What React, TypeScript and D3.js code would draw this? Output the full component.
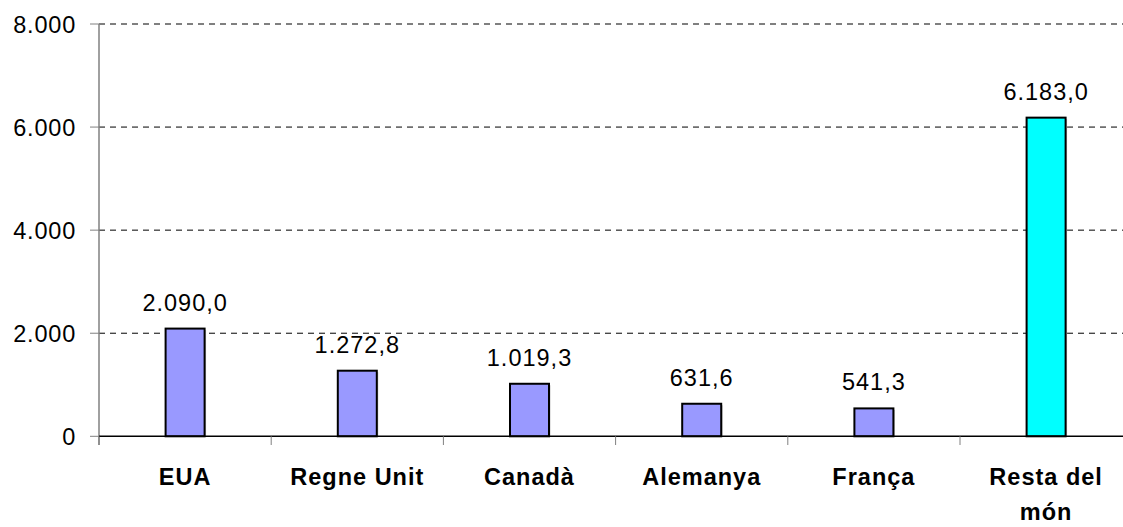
import React from "react";
import * as d3 from "d3";

const categories: string[][] = [["EUA"], ["Regne Unit"], ["Canadà"], ["Alemanya"], ["França"], ["Resta del", "món"]];
const values: number[] = [2090.0, 1272.8, 1019.3, 631.6, 541.3, 6183.0];
const valueLabels: string[] = ["2.090,0", "1.272,8", "1.019,3", "631,6", "541,3", "6.183,0"];
const barColors: string[] = ["#9999FF", "#9999FF", "#9999FF", "#9999FF", "#9999FF", "#00FFFF"];
const yTicks: number[] = [0, 2000, 4000, 6000, 8000];
const yTickLabels: string[] = ["0", "2.000", "4.000", "6.000", "8.000"];

const W = 1123;
const H = 527;
const FONT = "'Liberation Sans', Arial, Helvetica, sans-serif";

export default function App() {
  const keys = categories.map((c) => c.join(" "));
  const x = d3.scaleBand<string>().domain(keys).range([99, 99 + 6 * 172.2]).padding(0);
  const y = d3.scaleLinear().domain([0, 8000]).range([436.3, 24]);
  const bw = x.bandwidth();
  const barW = 39;
  const boundaries = keys.map((k) => x(k) as number).concat([(x(keys[keys.length - 1]) as number) + bw]);

  return (
    <svg
      width={W}
      height={H}
      style={{ position: "fixed", left: 0, top: 0, background: "#fff" }}
      fontFamily={FONT}
    >
      <rect x={0} y={0} width={W} height={H} fill="#fff" />
      {yTicks.filter((t) => t > 0).map((t) => (
        <line key={"g" + t} x1={99} x2={W} y1={y(t)} y2={y(t)} stroke="#000" strokeWidth={1} strokeDasharray="6,5" />
      ))}
      <line x1={99} x2={99} y1={y(8000)} y2={445} stroke="#808080" strokeWidth={1.5} />
      {yTicks.map((t, i) => (
        <g key={"t" + t}>
          <line x1={90} x2={99} y1={y(t)} y2={y(t)} stroke="#808080" strokeWidth={1} />
          <text x={76} y={y(t) + 9} textAnchor="end" fontSize={23.5} letterSpacing={0.8} fill="#000">
            {yTickLabels[i]}
          </text>
        </g>
      ))}
      {keys.map((k, i) => {
        const cx = (x(k) as number) + bw / 2;
        const top = y(values[i]);
        return (
          <g key={"b" + k}>
            <rect x={cx - barW / 2 + 1.5} y={top + 1.5} width={barW} height={y(0) - top - 1.5} fill="#c8c8c8" />
            <rect x={cx - barW / 2} y={top} width={barW} height={y(0) - top} fill={barColors[i]} stroke="#000" strokeWidth={2} />
            <text x={cx} y={top - 18} textAnchor="middle" fontSize={23.5} letterSpacing={1} fill="#000">
              {valueLabels[i]}
            </text>
          </g>
        );
      })}
      <line x1={99} x2={W} y1={y(0)} y2={y(0)} stroke="#000" strokeWidth={1.5} />
      {boundaries.map((b, i) => (
        <line key={"xt" + i} x1={b} x2={b} y1={y(0)} y2={445} stroke="#808080" strokeWidth={1} />
      ))}
      {keys.map((k, i) => {
        const cx = (x(k) as number) + bw / 2;
        return (
          <text key={"l" + k} textAnchor="middle" fontSize={23.5} fontWeight="bold" letterSpacing={1} fill="#000">
            {categories[i].map((line, j) => (
              <tspan key={j} x={cx} y={485 + j * 35}>
                {line}
              </tspan>
            ))}
          </text>
        );
      })}
    </svg>
  );
}
